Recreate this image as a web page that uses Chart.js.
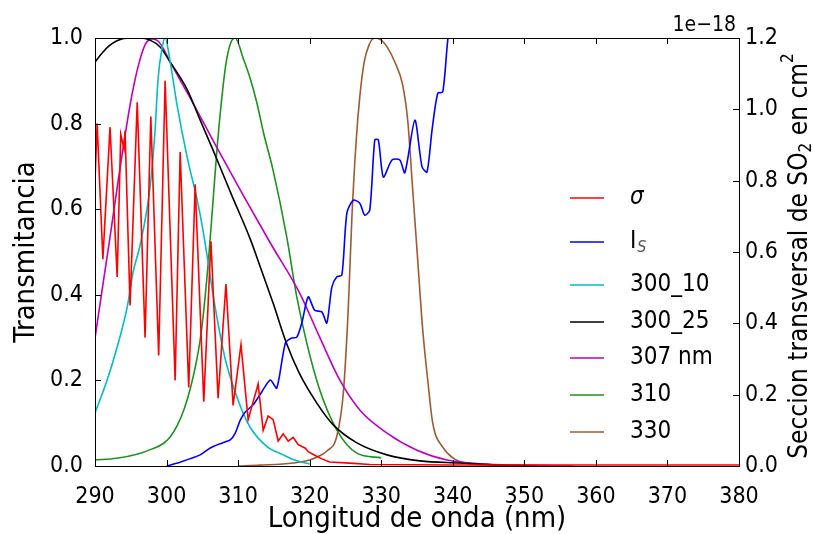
<!DOCTYPE html>
<html>
<head>
<meta charset="utf-8">
<script src="https://cdn.jsdelivr.net/npm/chart.js@4.4.3/dist/chart.umd.min.js"></script>
<style>
  html, body { margin: 0; padding: 0; background: #fff; }
  #wrap { width: 813px; height: 534px; }
</style>
</head>
<body>
<div id="wrap"><canvas id="chart" width="813" height="534"></canvas></div>
<script>
// Values (wavelength in nm)

// SO2 cross section, in units of 1e-18 cm2 (right axis)
const sigmaNm = [290.0, 290.3, 291.1, 292.1, 293.1, 293.6, 294.05, 294.2, 294.9, 295.9, 297.0, 297.8, 298.9, 299.8, 301.2, 301.9, 303.1, 304.0, 305.2, 306.2, 307.2, 308.3, 309.3, 310.4, 311.4, 312.8, 313.5, 314.2, 314.9, 315.6, 316.3, 317.0, 317.7, 318.4, 319.4, 319.8, 320.7, 321.7, 322.8, 325.6, 328.4, 340, 360, 380];
const sigmaVal = [0.80, 0.96, 0.58, 0.95, 0.53, 0.93, 0.89, 0.94, 0.45, 1.02, 0.36, 0.98, 0.31, 1.08, 0.24, 0.88, 0.22, 0.79, 0.18, 0.63, 0.19, 0.51, 0.17, 0.34, 0.13, 0.23, 0.10, 0.14, 0.13, 0.07, 0.09, 0.07, 0.08, 0.06, 0.05, 0.04, 0.03, 0.02, 0.011, 0.008, 0.004, 0.003, 0.003, 0.003];

// solar spectrum I_S (normalised, left axis)
const isNm = [300.0, 301.9, 304.7, 306.1, 307.8, 308.9, 309.6, 310.3, 311.0, 312.1, 313.3, 314.5, 315.4, 316.6, 317.5, 318.2, 318.9, 319.8, 320.7, 321.7, 322.4, 323.1, 323.8, 324.5, 325.2, 326.1, 327.0, 327.7, 328.4, 329.1, 329.6, 330.3, 331.5, 332.6, 333.3, 334.7, 335.7, 336.4, 337.1, 337.9, 338.6, 339.3, 339.8];
const isVal = [0.0, 0.009, 0.026, 0.042, 0.054, 0.061, 0.077, 0.107, 0.126, 0.143, 0.173, 0.201, 0.182, 0.287, 0.299, 0.301, 0.334, 0.395, 0.364, 0.360, 0.334, 0.418, 0.442, 0.446, 0.591, 0.621, 0.614, 0.586, 0.598, 0.762, 0.762, 0.675, 0.715, 0.715, 0.685, 0.808, 0.699, 0.687, 0.785, 0.871, 0.874, 0.995, 1.04];

// filter transmittances (left axis)
const f300_10Nm = [290, 291.7, 293.1, 294.5, 295.3, 296.3, 297.7, 298.4, 298.8, 299.4, 299.8, 300.5, 301.5, 302.9, 304.3, 305.1, 306.8, 308.2, 310.3, 311.7, 314.0, 316.3, 318.2, 320.0];
const f300_10Val = [0.124, 0.201, 0.278, 0.371, 0.451, 0.516, 0.652, 0.785, 0.902, 0.979, 1.0, 0.945, 0.84, 0.72, 0.62, 0.55, 0.37, 0.25, 0.14, 0.09, 0.046, 0.026, 0.012, 0.005];

const f300_25Nm = [290, 291, 292, 293, 294, 295, 296.3, 297.7, 299.1, 300.5, 302.9, 304.7, 306.5, 309.1, 311.7, 313.1, 314.9, 316.8, 318.6, 321.0, 323.3, 326.6, 330.8, 335.4, 341, 346.6, 352];
const f300_25Val = [0.944, 0.965, 0.982, 0.993, 0.999, 1.0, 1.0, 0.995, 0.979, 0.944, 0.879, 0.808, 0.738, 0.633, 0.53, 0.465, 0.38, 0.285, 0.215, 0.147, 0.096, 0.054, 0.026, 0.012, 0.007, 0.002, 0.0];

const f307Nm = [290.0, 291.1, 292.1, 293.5, 294.9, 295.9, 297.0, 298.0, 298.8, 299.5, 300.5, 303.3, 307.0, 310.7, 314.5, 318.6, 321.4, 324.2, 327.0, 330.8, 335.0, 339.2, 343.8, 350, 356.8];
const f307Val = [0.299, 0.423, 0.535, 0.696, 0.843, 0.925, 0.984, 0.998, 0.993, 0.977, 0.944, 0.86, 0.745, 0.633, 0.521, 0.404, 0.301, 0.201, 0.131, 0.077, 0.037, 0.014, 0.005, 0.002, 0.0];

const f310Nm = [290, 293, 296, 298, 299.5, 300.5, 301.5, 302.5, 303.3, 304.0, 304.7, 305.3, 305.9, 306.5, 307.0, 307.6, 308.3, 309.0, 309.6, 310.7, 311.7, 312.6, 313.6, 314.9, 316.8, 318.2, 319.6, 321.4, 323.8, 326.6, 330.0];
const f310Val = [0.014, 0.018, 0.028, 0.04, 0.052, 0.068, 0.095, 0.135, 0.18, 0.23, 0.295, 0.38, 0.49, 0.62, 0.73, 0.84, 0.94, 0.99, 1.0, 0.953, 0.905, 0.85, 0.775, 0.69, 0.535, 0.395, 0.287, 0.178, 0.084, 0.030, 0.019];

const f330Nm = [310.0, 313.1, 317.7, 320.0, 321.4, 322.4, 323.8, 324.7, 325.4, 325.9, 326.5, 327.0, 327.6, 328.3, 329.1, 330.0, 330.9, 331.9, 333.0, 333.7, 334.4, 335.1, 335.8, 336.5, 337.2, 338.6, 340.0, 341.7, 345.2, 350.8];
const f330Val = [0.0, 0.002, 0.007, 0.014, 0.024, 0.035, 0.07, 0.17, 0.37, 0.58, 0.76, 0.862, 0.942, 0.984, 1.0, 0.995, 0.977, 0.944, 0.890, 0.808, 0.645, 0.481, 0.318, 0.201, 0.100, 0.044, 0.019, 0.007, 0.002, 0.0];

const xTicksMin = 290, xTicksMax = 380;

const FONT = '"DejaVu Sans Condensed", "DejaVu Sans", sans-serif';

function pts(xs, ys) {
  return xs.map((x, i) => ({ x: x, y: ys[i] }));
}

function series(label, xs, ys, color, axis, smooth) {
  return {
    label: label,
    data: pts(xs, ys),
    borderColor: color,
    backgroundColor: color,
    borderWidth: 1.6,
    pointRadius: 0,
    fill: false,
    yAxisID: axis,
    tension: 0,
    cubicInterpolationMode: smooth ? 'monotone' : 'default'
  };
}

const datasets = [
  series('σ', sigmaNm, sigmaVal, '#ff0000', 'y1', false),
  series('I', isNm, isVal, '#0000ff', 'y', false),
  series('300_10', f300_10Nm, f300_10Val, '#00bfbf', 'y', true),
  series('300_25', f300_25Nm, f300_25Val, '#000000', 'y', true),
  series('307 nm', f307Nm, f307Val, '#bf00bf', 'y', true),
  series('310', f310Nm, f310Val, '#1e921e', 'y', true),
  series('330', f330Nm, f330Val, '#a05a32', 'y', true)
];
datasets[0].legendStyle = 'italic';
datasets[1].legendSub = 'S';
datasets[1].tension = 0.25;

// matplotlib-like frame, inward ticks, legend and right-hand texts
const decor = {
  id: 'decor',
  afterDraw(chart) {
    const ctx = chart.ctx;
    const a = chart.chartArea;
    const sx = chart.scales.x, sy = chart.scales.y, sy1 = chart.scales.y1;
    ctx.save();
    ctx.strokeStyle = '#000';
    ctx.lineWidth = 1;
    ctx.strokeRect(Math.round(a.left) + 0.5, Math.round(a.top) + 0.5, Math.round(a.right - a.left), Math.round(a.bottom - a.top));

    const tl = 6;
    ctx.beginPath();
    sx.ticks.forEach(t => {
      const p = Math.round(sx.getPixelForValue(t.value)) + 0.5;
      ctx.moveTo(p, a.bottom); ctx.lineTo(p, a.bottom - tl);
      ctx.moveTo(p, a.top); ctx.lineTo(p, a.top + tl);
    });
    sy.ticks.forEach(t => {
      const p = Math.round(sy.getPixelForValue(t.value)) + 0.5;
      ctx.moveTo(a.left, p); ctx.lineTo(a.left + tl, p);
    });
    sy1.ticks.forEach(t => {
      const p = Math.round(sy1.getPixelForValue(t.value)) + 0.5;
      ctx.moveTo(a.right, p); ctx.lineTo(a.right - tl, p);
    });
    ctx.stroke();

    // offset text of the right axis
    ctx.fillStyle = '#000';
    ctx.font = '21px ' + FONT;
    ctx.textAlign = 'right';
    ctx.textBaseline = 'alphabetic';
    ctx.fillText('1e\u221218', a.right - 3, a.top - 7);

    // right axis title, reading bottom to top
    ctx.save();
    ctx.translate(800, (a.top + a.bottom) / 2 + 4);
    ctx.rotate(-Math.PI / 2);
    const big = '26px ' + FONT, small = '17px ' + FONT;
    const parts = [
      ['Seccion transversal de SO', big, 0],
      ['2', small, 7],
      [' en cm', big, 0],
      ['2', small, -11]
    ];
    let w = 0;
    parts.forEach(p => { ctx.font = p[1]; w += ctx.measureText(p[0]).width; });
    let cx = -w / 2;
    ctx.textAlign = 'left';
    ctx.textBaseline = 'middle';
    parts.forEach(p => {
      ctx.font = p[1];
      ctx.fillText(p[0], cx, p[2]);
      cx += ctx.measureText(p[0]).width;
    });
    ctx.restore();

    // legend without frame
    const rows = [198, 242, 285, 322, 358, 395, 432];
    chart.data.datasets.forEach((ds, i) => {
      const y = rows[i];
      ctx.strokeStyle = ds.borderColor;
      ctx.lineWidth = 1.6;
      ctx.beginPath();
      ctx.moveTo(570, y); ctx.lineTo(604, y);
      ctx.stroke();
      ctx.fillStyle = '#000';
      ctx.textAlign = 'left';
      ctx.textBaseline = 'middle';
      ctx.font = (ds.legendStyle === 'italic' ? 'italic ' : '') + '24px ' + FONT;
      ctx.fillText(ds.label, 630, y);
      if (ds.legendSub) {
        const lw = ctx.measureText(ds.label).width;
        ctx.font = 'italic 16px ' + FONT;
        ctx.fillStyle = '#555';
        ctx.fillText(ds.legendSub, 630 + lw + 1, y + 6);
      }
    });
    ctx.restore();
  }
};

const tickFont = { family: FONT, size: 23 };

new Chart(document.getElementById('chart'), {
  type: 'line',
  data: { datasets: datasets },
  options: {
    responsive: false,
    animation: false,
    layout: { padding: { top: 38, left: 0, right: 0, bottom: 0 } },
    plugins: { legend: { display: false }, tooltip: { enabled: false } },
    scales: {
      x: {
        type: 'linear',
        position: 'bottom',
        min: xTicksMin,
        max: xTicksMax,
        grid: { display: false, drawTicks: false },
        border: { display: false },
        ticks: { stepSize: 10, font: tickFont, color: '#000', padding: 17, maxRotation: 0 },
        title: { display: true, text: 'Longitud de onda (nm)', color: '#000',
                 font: { family: FONT, size: 29, lineHeight: 1 }, padding: { top: 0, bottom: 0 } },
        afterFit(s) { s.height = 68; }
      },
      y: {
        position: 'left',
        min: 0,
        max: 1,
        grid: { display: false, drawTicks: false },
        border: { display: false },
        ticks: { stepSize: 0.2, font: tickFont, color: '#000', padding: 12,
                 callback: v => v.toFixed(1) },
        title: { display: true, text: 'Transmitancia', color: '#000',
                 font: { family: FONT, size: 29, lineHeight: 1 }, padding: { top: 12, bottom: 0 } },
        afterFit(s) { s.width = 95; }
      },
      y1: {
        position: 'right',
        min: 0,
        max: 1.2,
        grid: { display: false, drawTicks: false },
        border: { display: false },
        ticks: { stepSize: 0.2, font: tickFont, color: '#000', padding: 6,
                 callback: v => v.toFixed(1) },
        afterFit(s) { s.width = 74; }
      }
    }
  },
  plugins: [decor]
});
</script>
</body>
</html>
